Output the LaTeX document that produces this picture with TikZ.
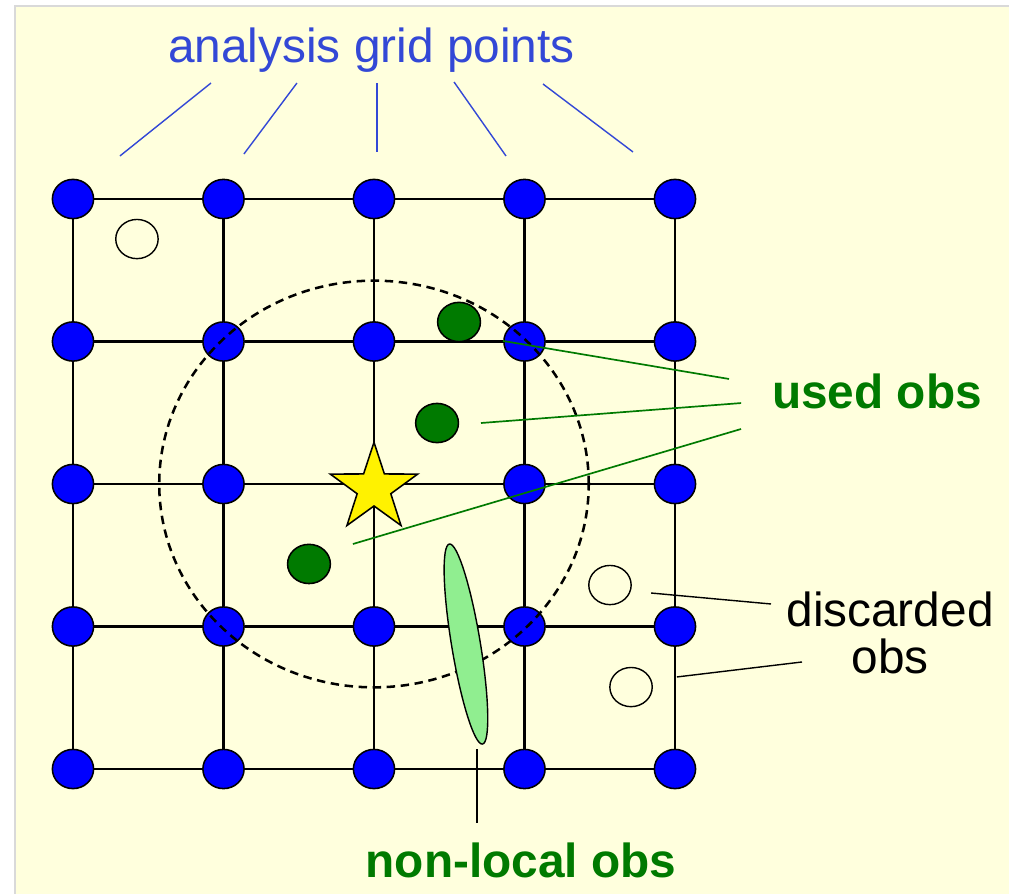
\documentclass[tikz,border=0pt]{standalone}
\usepackage{fontspec}
\setmainfont{Liberation Sans}
\usetikzlibrary{shapes.geometric}

\definecolor{bgyellow}{RGB}{255,255,221}
\definecolor{framegray}{RGB}{217,217,217}
\definecolor{gridblue}{RGB}{0,0,255}
\definecolor{labelblue}{RGB}{51,72,214}
\definecolor{obsgreen}{RGB}{0,122,0}
\definecolor{nlgreen}{RGB}{144,238,144}

\tikzset{
    gridpt/.style={ellipse, draw, line width=1.1pt, fill=gridblue, minimum width=1.03cm, minimum height=0.98cm, inner sep=0pt},
    usedob/.style={ellipse, draw, line width=1.1pt, fill=obsgreen, minimum width=1.07cm, minimum height=0.98cm, inner sep=0pt},
    discob/.style={ellipse, draw, line width=1pt, fill=bgyellow, minimum width=1.06cm, minimum height=0.98cm, inner sep=0pt},
    gridline/.style={line width=1.6pt},
    pointer/.style={line width=1pt},
    plaintext/.style={font=\fontsize{34}{33.4}\selectfont, inner sep=0pt},
    boldtext/.style={font=\fontsize{34}{33.4}\selectfont\bfseries, inner sep=0pt},
}

\begin{document}
\begin{tikzpicture}[x=3.7625cm, y=3.5625cm]
        \useasboundingbox[fill=white] (-2.4850,-2.8702) rectangle (4.2193,3.3965);
        \draw[framegray, line width=1.4pt, fill=bgyellow] (-2.385,3.354) rectangle (4.4,-3.0);

        \foreach \x [count=\c] in {-2,...,2}
            \foreach \y [count=\r] in {2,1,0,-1,-2} {
                \ifnum\r\c=33 \coordinate (g\r\c) at (\x,\y);
                \else \node[gridpt] (g\r\c) at (\x,\y) {};
                \fi
            }

        \foreach \r in {1,...,5} {
            \foreach \c [evaluate=\c as \n using int(\c+1)] in {1,...,4} {
                \draw[gridline] (g\r\c) -- (g\r\n);
                \draw[gridline] (g\c\r) -- (g\n\r);
            }
        }

        \node[discob] (disc1) at (-1.575,1.719) {};
        \node[discob] (disc2) at (1.568,-0.709) {};
        \node[discob] (disc3) at (1.708,-1.425) {};

        \node[usedob] (used1) at (0.565,1.137) {};
        \node[usedob] (used2) at (0.419,0.428) {};
        \node[usedob] (used3) at (-0.432,-0.561) {};

        \node[star, star points=5, star point ratio=2.6, draw, line width=1.1pt, fill=yellow,
              minimum size=2.3cm, inner sep=0pt] (ana) at (0,-0.03) {};

        \coordinate (o) at (0,0);
        \draw[line width=1.8pt, dash pattern=on 6pt off 4pt] (o) circle (1.427);

        \node[ellipse, draw, line width=1pt, fill=nlgreen, rotate=9.4, minimum width=0.72cm,
              minimum height=5.07cm, inner sep=0pt] (nonloc) at (0.611,-1.123) {};

        \node[plaintext, text=labelblue, anchor=base] (agp) at (-0.017,2.961) {analysis grid points};
        \node[boldtext, text=obsgreen, anchor=base] (usedlab) at (3.342,0.533) {used obs};
        \node[plaintext, align=center] (disclab) at (3.429,-1.046) {discarded\\obs};
        \node[boldtext, text=obsgreen, anchor=base] (nllab) at (0.977,-2.758) {non-local obs};

        \foreach \a/\b/\c/\d [count=\k] in {-1.688/2.302/-1.083/2.814, -0.864/2.316/-0.512/2.814,
                0.020/2.330/0.020/2.814, 0.877/2.302/0.532/2.821, 1.721/2.330/1.123/2.807} {
            \coordinate (gp\k) at (\a,\b);
            \coordinate (lb\k) at (\c,\d);
            \draw[pointer, labelblue] (lb\k) -- (gp\k);
        }

        \foreach \a/\b/\c/\d [count=\k] in {0.857/1.004/2.359/0.737, 0.711/0.428/2.439/0.568,
                -0.140/-0.421/2.439/0.386} {
            \coordinate (up\k) at (\a,\b);
            \coordinate (ul\k) at (\c,\d);
            \draw[pointer, obsgreen, line width=1.2pt] (up\k) -- (ul\k);
        }

        \foreach \a/\b/\c/\d [count=\k] in {1.841/-0.765/2.638/-0.842, 2.013/-1.354/2.844/-1.249} {
            \coordinate (dp\k) at (\a,\b);
            \coordinate (dl\k) at (\c,\d);
            \draw[pointer] (dp\k) -- (dl\k);
        }

        \coordinate (nlp) at (0.684,-1.860);
        \coordinate (nll) at (0.684,-2.379);
        \draw[pointer] (nlp) -- (nll);
\end{tikzpicture}
\end{document}
